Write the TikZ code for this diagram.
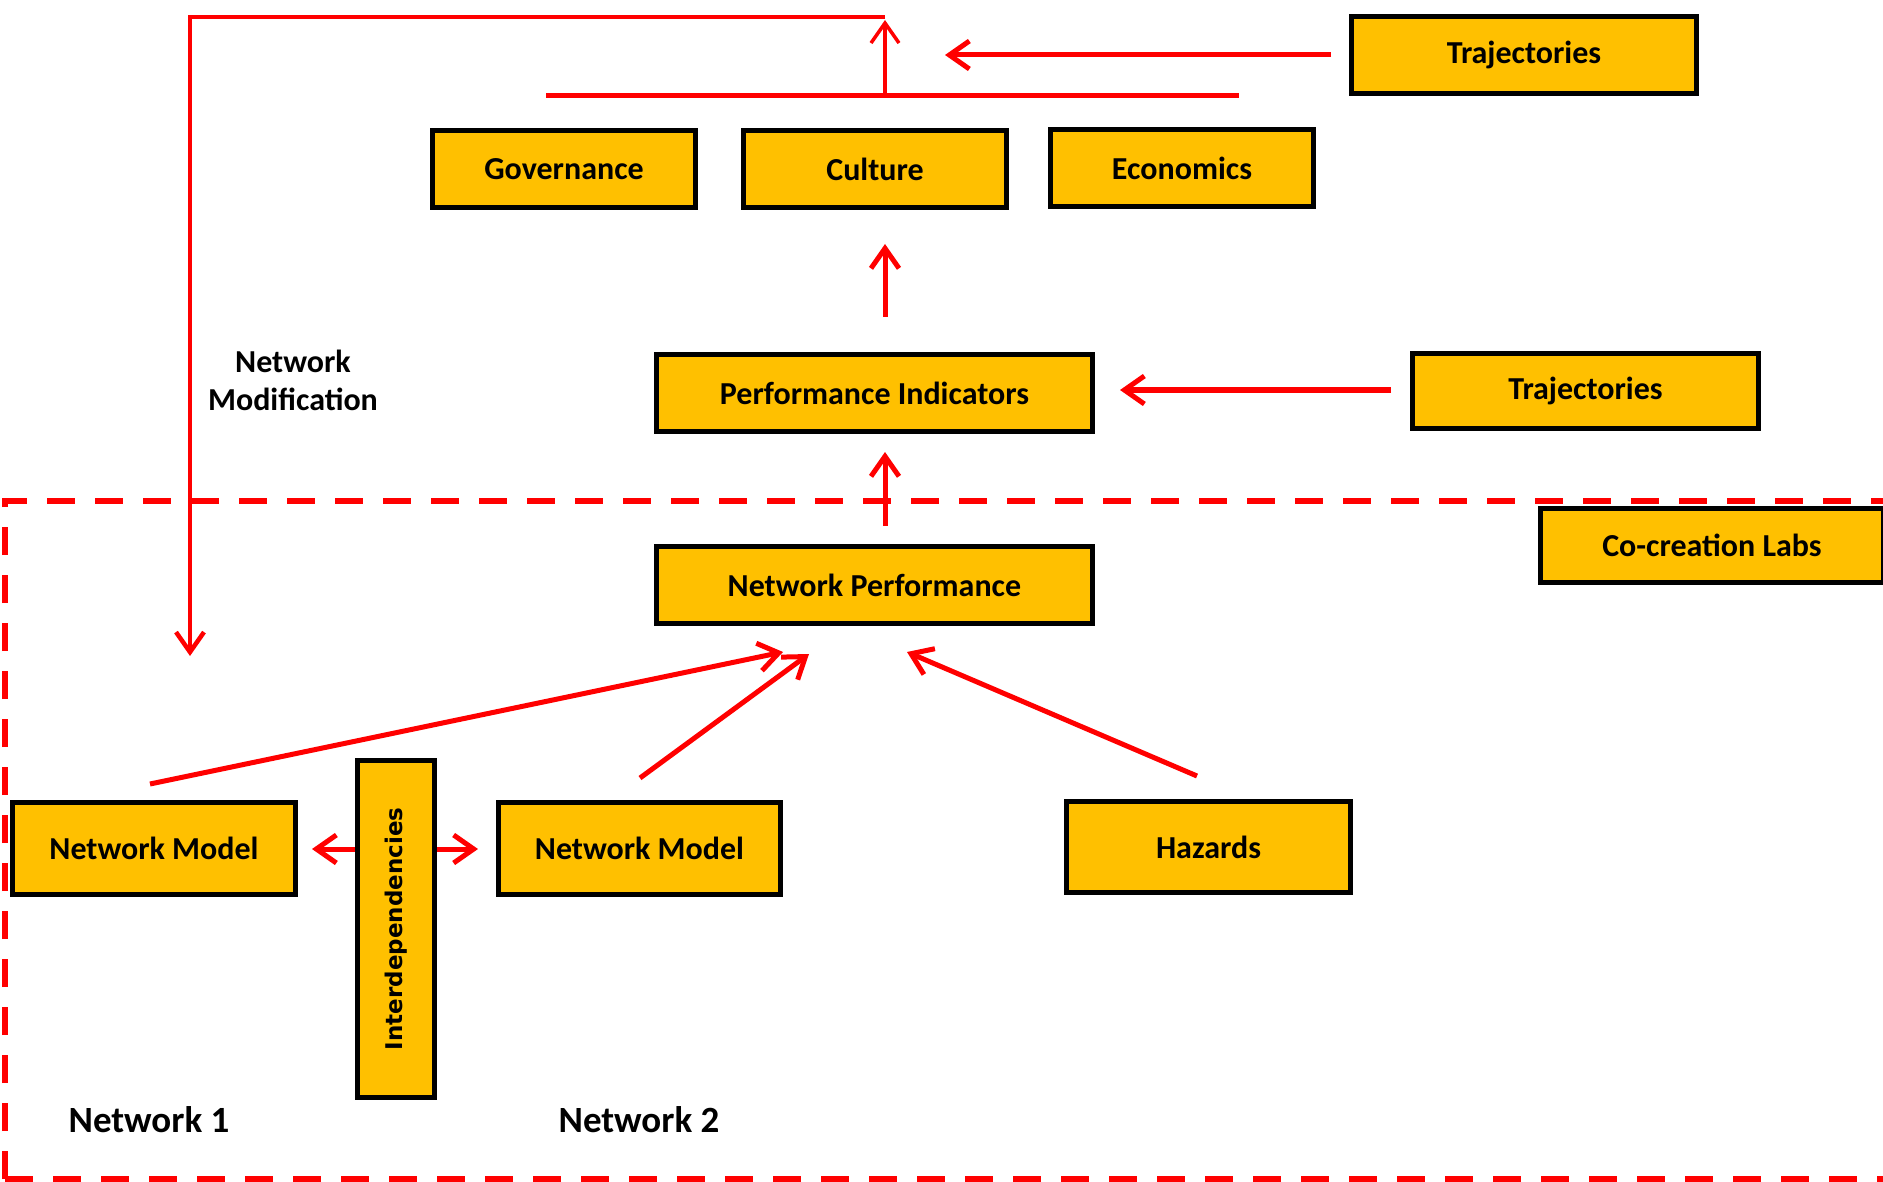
\documentclass[tikz,border=0pt]{standalone}
\usepackage{fontspec}
\setmainfont{Carlito}
\newfontfamily\ifont{DejaVu Sans}
\usetikzlibrary{arrows.meta}
\definecolor{gold}{HTML}{FFC000}
\definecolor{pred}{HTML}{FF0000}
\begin{document}
\begin{tikzpicture}[x=1pt,y=-1pt,
  box/.style={draw=black, line width=5.5pt, fill=gold, rectangle, inner sep=0pt,
    font=\bfseries\fontsize{32}{38}\selectfont},
  redln/.style={draw=pred, line width=5pt},
  arr/.style={redln, -{Straight Barb[length=20pt,width=28pt]}},
  lbl/.style={inner sep=0pt, font=\bfseries\fontsize{32}{38}\selectfont, align=center},
  netlbl/.style={inner sep=0pt, font=\bfseries\fontsize{37}{44}\selectfont}]
\useasboundingbox (0,0) rectangle (1883,1182);
\clip (0,0) rectangle (1883,1182);

% dashed region
\draw[pred, line width=6pt, dash pattern=on 28pt off 20pt] (5,1179) -- (5,501) -- (1920,501);
\draw[pred, line width=6pt, dash pattern=on 28pt off 20pt] (5,1179) -- (1920,1179);

% boxes
\node[box, minimum width=345pt, minimum height=77pt] (traj1) at (1524,55) {Trajectories};
\node[box, minimum width=263pt, minimum height=77pt] (gov) at (564,169) {Governance};
\node[box, minimum width=263pt, minimum height=77pt] (cult) at (875,169) {Culture};
\node[box, minimum width=263pt, minimum height=77pt] (econ) at (1182,168) {Economics};
\node[box, minimum width=436pt, minimum height=77pt] (perf) at (874.5,393) {Performance Indicators};
\node[box, minimum width=346pt, minimum height=75pt] (traj2) at (1585.5,391) {Trajectories};
\node[box, minimum width=343pt, minimum height=74pt] (cocr) at (1712,545.5) {Co-creation Labs};
\node[box, minimum width=436pt, minimum height=77pt] (netperf) at (874.5,585) {Network Performance};
\node[box, minimum width=283pt, minimum height=92pt] (nm1) at (154,848.5) {Network Model};
\node[box, minimum width=282pt, minimum height=92pt] (nm2) at (639.5,848.5) {Network Model};
\node[box, minimum width=284pt, minimum height=91pt] (haz) at (1208.5,847) {Hazards};
\node[box, minimum width=77pt, minimum height=337pt] (inter) at (396,929) {};
\node[inner sep=0pt, rotate=90, font=\ifont\bfseries\fontsize{23}{28}\selectfont] (intertxt) at (inter.center) {Interdependencies};

% labels
\node[lbl] (netmod) at (293,380) {Network\\Modification};
\node[netlbl] (net1) at (149,1120) {Network 1};
\node[netlbl] (net2) at (639,1120) {Network 2};

% coordinates for connectors
\coordinate (tl) at (190,17);
\coordinate (tr) at (885,17);
\coordinate (modend) at (190,656);
\coordinate (barL) at (546,96);
\coordinate (barR) at (1239,96);
\coordinate (barM) at (885,96);
\coordinate (barTip) at (885,20);
\coordinate (t1s) at (1331,55);
\coordinate (t1e) at (945,55);
\coordinate (c1s) at (885,317);
\coordinate (c1e) at (885,244);
\coordinate (t2s) at (1391,390);
\coordinate (t2e) at (1120,390);
\coordinate (p1s) at (885,526);
\coordinate (p1e) at (885,452);
\coordinate (n1s) at (150,784);
\coordinate (n1e) at (783,652);
\coordinate (n2s) at (640,778);
\coordinate (n2e) at (809,654);
\coordinate (hs) at (1197,776);
\coordinate (he) at (907,652);
\coordinate (il) at (312,849);
\coordinate (ir) at (478,849);

% connectors
\draw[arr, line width=4.5pt] (tr) -- (tl) -- (modend);
\draw[redln] (barL) -- (barR);
\draw[arr, line width=3.5pt] (barM) -- (barTip);
\draw[arr] (t1s) -- (t1e);
\draw[arr] (c1s) -- (c1e);
\draw[arr] (t2s) -- (t2e);
\draw[arr] (p1s) -- (p1e);
\draw[arr] (n1s) -- (n1e);
\draw[arr] (n2s) -- (n2e);
\draw[arr] (hs) -- (he);
\draw[arr] (inter.west |- il) -- (il);
\draw[arr] (inter.east |- ir) -- (ir);
\end{tikzpicture}
\end{document}
